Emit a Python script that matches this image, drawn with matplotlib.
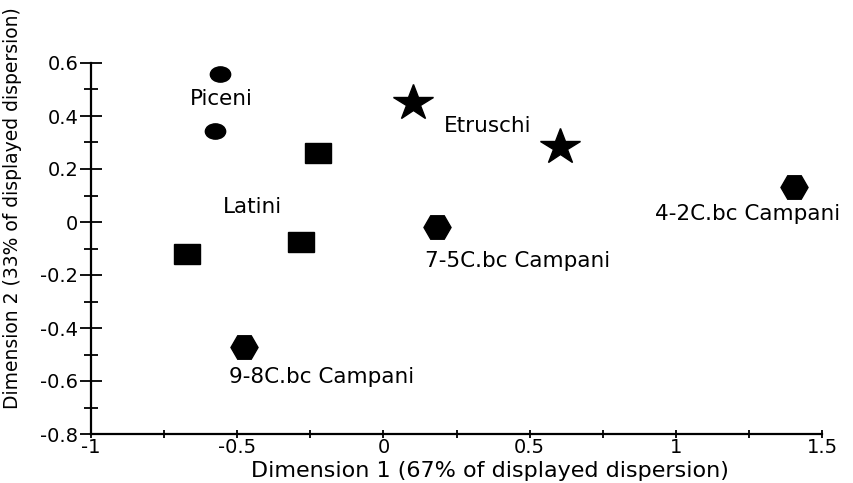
import matplotlib
matplotlib.use("Agg")
import matplotlib.pyplot as plt
from matplotlib.markers import MarkerStyle
from matplotlib.transforms import Affine2D
from matplotlib.ticker import MultipleLocator

plt.rcParams['font.family'] = ['DejaVu Sans']

# Data
piceni_x = [-0.559, -0.576]
piceni_y = [0.558, 0.343]
etruschi_x = [0.101, 0.604]
etruschi_y = [0.449, 0.283]
latini_x = [-0.225, -0.282, -0.672]
latini_y = [0.260, -0.075, -0.121]
campani_x = [0.183, -0.477, 1.404]
campani_y = [-0.019, -0.472, 0.132]

label_texts = ["Piceni", "Etruschi", "Latini", "7-5C.bc Campani", "9-8C.bc Campani", "4-2C.bc Campani"]
label_x = [-0.555, 0.357, -0.449, 0.460, -0.210, 1.247]
label_y = [0.464, 0.362, 0.057, -0.147, -0.585, 0.030]

xticks = [-1, -0.5, 0, 0.5, 1, 1.5]
xticklabels = ["-1", "-0.5", "0", "0.5", "1", "1.5"]
yticks = [-0.8, -0.6, -0.4, -0.2, 0, 0.2, 0.4, 0.6]
yticklabels = ["-0.8", "-0.6", "-0.4", "-0.2", "0", "0.2", "0.4", "0.6"]

xlabel = "Dimension 1 (67% of displayed dispersion)"
ylabel = "Dimension 2 (33% of displayed dispersion)"

fig = plt.figure(figsize=(8.54, 4.83), dpi=100)
ax = fig.add_axes([91/854, 1 - 434/483, (822 - 91)/854, (434 - 63)/483])

circ = MarkerStyle('o', transform=Affine2D().scale(1.33, 1.0))
sq = MarkerStyle('s', transform=Affine2D().scale(1.29, 1.0))
star = MarkerStyle('*', transform=Affine2D().scale(1.1, 1.0))
hexm = MarkerStyle('H')

ax.plot(piceni_x, piceni_y, linestyle='none', marker=circ, markersize=11, color='black')
ax.plot(etruschi_x, etruschi_y, linestyle='none', marker=star, markersize=27, color='black')
ax.plot(latini_x, latini_y, linestyle='none', marker=sq, markersize=15, color='black')
ax.plot(campani_x, campani_y, linestyle='none', marker=hexm, markersize=19.5, color='black')

for t, x, y in zip(label_texts, label_x, label_y):
    ax.text(x, y, t, ha='center', va='center', fontsize=15.5, color='black')

ax.set_xlim(-1, 1.5)
ax.set_ylim(-0.8, 0.6)
ax.set_xticks(xticks)
ax.set_xticklabels(xticklabels)
ax.set_yticks(yticks)
ax.set_yticklabels(yticklabels)
ax.xaxis.set_minor_locator(MultipleLocator(0.25))
ax.yaxis.set_minor_locator(MultipleLocator(0.1))

for s in ['top', 'right']:
    ax.spines[s].set_visible(False)
for s in ['left', 'bottom']:
    ax.spines[s].set_linewidth(1.6)

ax.tick_params(axis='y', which='major', direction='inout', length=16, width=1.3, labelsize=14, pad=1)
ax.tick_params(axis='y', which='minor', direction='inout', length=10, width=1.3)
ax.tick_params(axis='x', which='major', direction='inout', length=6, width=1.3, labelsize=14, pad=0)
ax.tick_params(axis='x', which='minor', direction='inout', length=6, width=1.3)

ax.set_xlabel(xlabel, fontsize=16)
ax.set_ylabel(ylabel, fontsize=13.5)
ax.xaxis.set_label_coords(0.546, -0.072)
ax.yaxis.set_label_coords(-0.094, 0.61)

fig.savefig("out.png", dpi=100)
